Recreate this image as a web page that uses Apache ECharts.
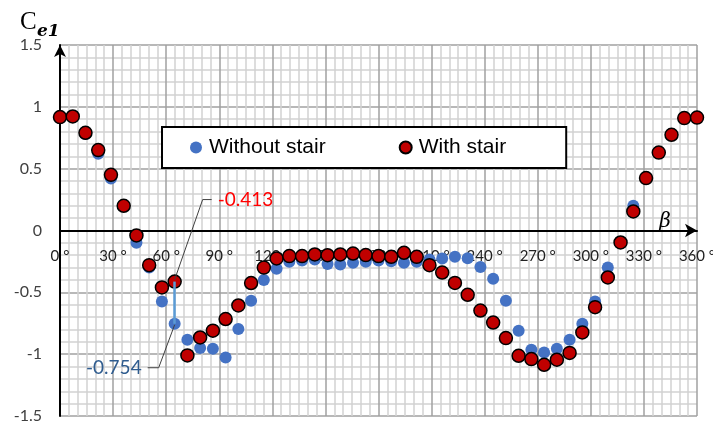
<!DOCTYPE html>
<html>
<head>
<meta charset="utf-8">
<script src="https://cdn.jsdelivr.net/npm/echarts@6/dist/echarts.min.js"></script>
<style>
  html, body { margin: 0; padding: 0; background: #fff; }
  #chart { width: 713px; height: 423px; }
</style>
</head>
<body>
<div id="chart"></div>
<script>
// wind direction beta (deg)
const angles = [
  0, 7.2, 14.4, 21.6, 28.8, 36, 43.2, 50.4, 57.6, 64.8,
  72, 79.2, 86.4, 93.6, 100.8, 108, 115.2, 122.4, 129.6, 136.8,
  144, 151.2, 158.4, 165.6, 172.8, 180, 187.2, 194.4, 201.6, 208.8,
  216, 223.2, 230.4, 237.6, 244.8, 252, 259.2, 266.4, 273.6, 280.8,
  288, 295.2, 302.4, 309.6, 316.8, 324, 331.2, 338.4, 345.6, 352.8, 360
];
const withoutStair = [
  0.91, 0.92, 0.78, 0.62, 0.42, 0.20, -0.10, -0.30, -0.574, -0.754,
  -0.884, -0.95, -0.956, -1.027, -0.797, -0.568, -0.40, -0.31, -0.253, -0.243,
  -0.234, -0.27, -0.275, -0.261, -0.253, -0.243, -0.248, -0.26, -0.253, -0.234,
  -0.226, -0.213, -0.225, -0.296, -0.39, -0.568, -0.81, -0.964, -0.986, -0.956,
  -0.884, -0.754, -0.574, -0.30, -0.10, 0.20, 0.43, 0.63, 0.78, 0.91, 0.92
];
const withStair = [
  0.917, 0.922, 0.79, 0.65, 0.45, 0.20, -0.04, -0.28, -0.46, -0.413,
  -1.01, -0.865, -0.81, -0.716, -0.606, -0.425, -0.30, -0.226, -0.207, -0.207,
  -0.194, -0.20, -0.194, -0.186, -0.199, -0.207, -0.213, -0.18, -0.213, -0.28,
  -0.34, -0.424, -0.52, -0.647, -0.744, -0.87, -1.013, -1.04, -1.086, -1.045,
  -0.99, -0.824, -0.62, -0.38, -0.097, 0.154, 0.424, 0.63, 0.774, 0.909, 0.913
];
const seriesNames = ["Without stair", "With stair"];
// the highlighted point (index into the arrays)
const markIndex = 9;

const chart = echarts.init(document.getElementById("chart"));

const pair = (ys) => angles.map((a, i) => [a, ys[i]]);

const gridLine = { show: true, lineStyle: { color: "#a0a0a0", width: 1.5 } };
const minorLine = { show: true, lineStyle: { color: "#d2d2d2", width: 1.5 } };

chart.setOption({
  animation: false,
  grid: { left: 60, right: 16, top: 45, bottom: 7, containLabel: false, outerBoundsMode: "none" },
  legend: {
    left: 162,
    top: 127,
    padding: [10, 60, 10, 28],
    backgroundColor: "#fff",
    borderColor: "#000",
    borderWidth: 2,
    borderRadius: 0,
    itemWidth: 12,
    itemHeight: 12,
    itemGap: 73,
    textStyle: { fontFamily: "Liberation Sans", fontSize: 21, color: "#000", padding: [0, 0, 0, 2] },
    data: seriesNames,
  },
  xAxis: [
    {
      // grid + arrowed axis line through zero
      type: "value",
      min: 0,
      max: 360,
      interval: 30,
      axisLine: {
        onZero: true,
        lineStyle: { color: "#000", width: 2 },
        symbol: ["none", "arrow"],
        symbolSize: [10, 12],
      },
      axisTick: { show: false },
      axisLabel: { show: false },
      splitLine: gridLine,
      minorTick: { show: false, splitNumber: 6 },
      minorSplitLine: minorLine,
    },
    {
      // tick labels sitting just under the zero line
      type: "value",
      min: 0,
      max: 360,
      interval: 30,
      position: "bottom",
      offset: -185.5,
      axisLine: { show: false, onZero: false },
      axisTick: { show: false },
      splitLine: { show: false },
      axisLabel: {
        margin: 18,
        fontFamily: "Lato",
        fontSize: 15,
        color: "#222",
        formatter: (v) => v + " °",
      },
    },
  ],
  yAxis: {
    type: "value",
    min: -1.5,
    max: 1.5,
    interval: 0.5,
    axisLine: {
      show: true,
      lineStyle: { color: "#000", width: 2 },
      symbol: ["none", "arrow"],
      symbolSize: [9, 12],
    },
    axisTick: { show: false },
    axisLabel: { margin: 18, fontFamily: "Lato", fontSize: 16, color: "#404040" },
    splitLine: gridLine,
    minorTick: { show: false, splitNumber: 5 },
    minorSplitLine: minorLine,
  },
  series: [
    {
      name: seriesNames[0],
      type: "scatter",
      data: pair(withoutStair),
      symbolSize: 12,
      clip: false,
      z: 2,
      itemStyle: { color: "#4472c4", opacity: 1 },
      markLine: {
        silent: true,
        symbol: "none",
        label: { show: false },
        lineStyle: { color: "#5b9bd5", width: 2.5, type: "solid" },
        data: [[
          { coord: [angles[markIndex], withoutStair[markIndex]] },
          { coord: [angles[markIndex], withStair[markIndex]] },
        ]],
      },
    },
    {
      name: seriesNames[1],
      type: "scatter",
      data: pair(withStair),
      symbolSize: 13,
      clip: false,
      z: 3,
      itemStyle: { color: "#c00000", borderColor: "#000", borderWidth: 1.5, opacity: 1 },
    },
  ],
});

// annotations anchored to the highlighted points
const pRed = chart.convertToPixel({ gridIndex: 0 }, [angles[markIndex], withStair[markIndex]]);
const pBlue = chart.convertToPixel({ gridIndex: 0 }, [angles[markIndex], withoutStair[markIndex]]);

chart.setOption({
  graphic: [
    {
      type: "text",
      left: 20,
      top: 10,
      style: { text: "C", fontFamily: "Liberation Serif", fontSize: 25, fill: "#000" },
    },
    {
      type: "text",
      left: 37,
      top: 23,
      style: { text: "e1", fontFamily: "DejaVu Serif", fontStyle: "italic", fontWeight: "bold", fontSize: 17, fill: "#000" },
    },
    {
      type: "text",
      x: 665,
      y: 222,
      style: { text: "β", fontFamily: "DejaVu Serif", fontStyle: "italic", fontSize: 20, fill: "#000", align: "center", verticalAlign: "middle" },
    },
    {
      type: "polyline",
      z: 10,
      shape: { points: [[pRed[0], pRed[1] - 2], [pRed[0] + 28, pRed[1] - 82], [pRed[0] + 37, pRed[1] - 82]] },
      style: { stroke: "#404040", lineWidth: 1, fill: null },
    },
    {
      type: "text",
      z: 10,
      x: pRed[0] + 43,
      y: pRed[1] - 82,
      style: { text: withStair[markIndex].toFixed(3), fontFamily: "Lato", fontSize: 19, fill: "#ff0000", verticalAlign: "middle" },
    },
    {
      type: "polyline",
      z: 10,
      shape: { points: [[pBlue[0], pBlue[1] + 1], [pBlue[0] - 16, pBlue[1] + 44], [pBlue[0] - 27, pBlue[1] + 44]] },
      style: { stroke: "#404040", lineWidth: 1, fill: null },
    },
    {
      type: "text",
      z: 10,
      x: pBlue[0] - 33,
      y: pBlue[1] + 44,
      style: { text: withoutStair[markIndex].toFixed(3), fontFamily: "Lato", fontSize: 19, fill: "#2f5c8f", align: "right", verticalAlign: "middle" },
    },
  ],
});
</script>
</body>
</html>
